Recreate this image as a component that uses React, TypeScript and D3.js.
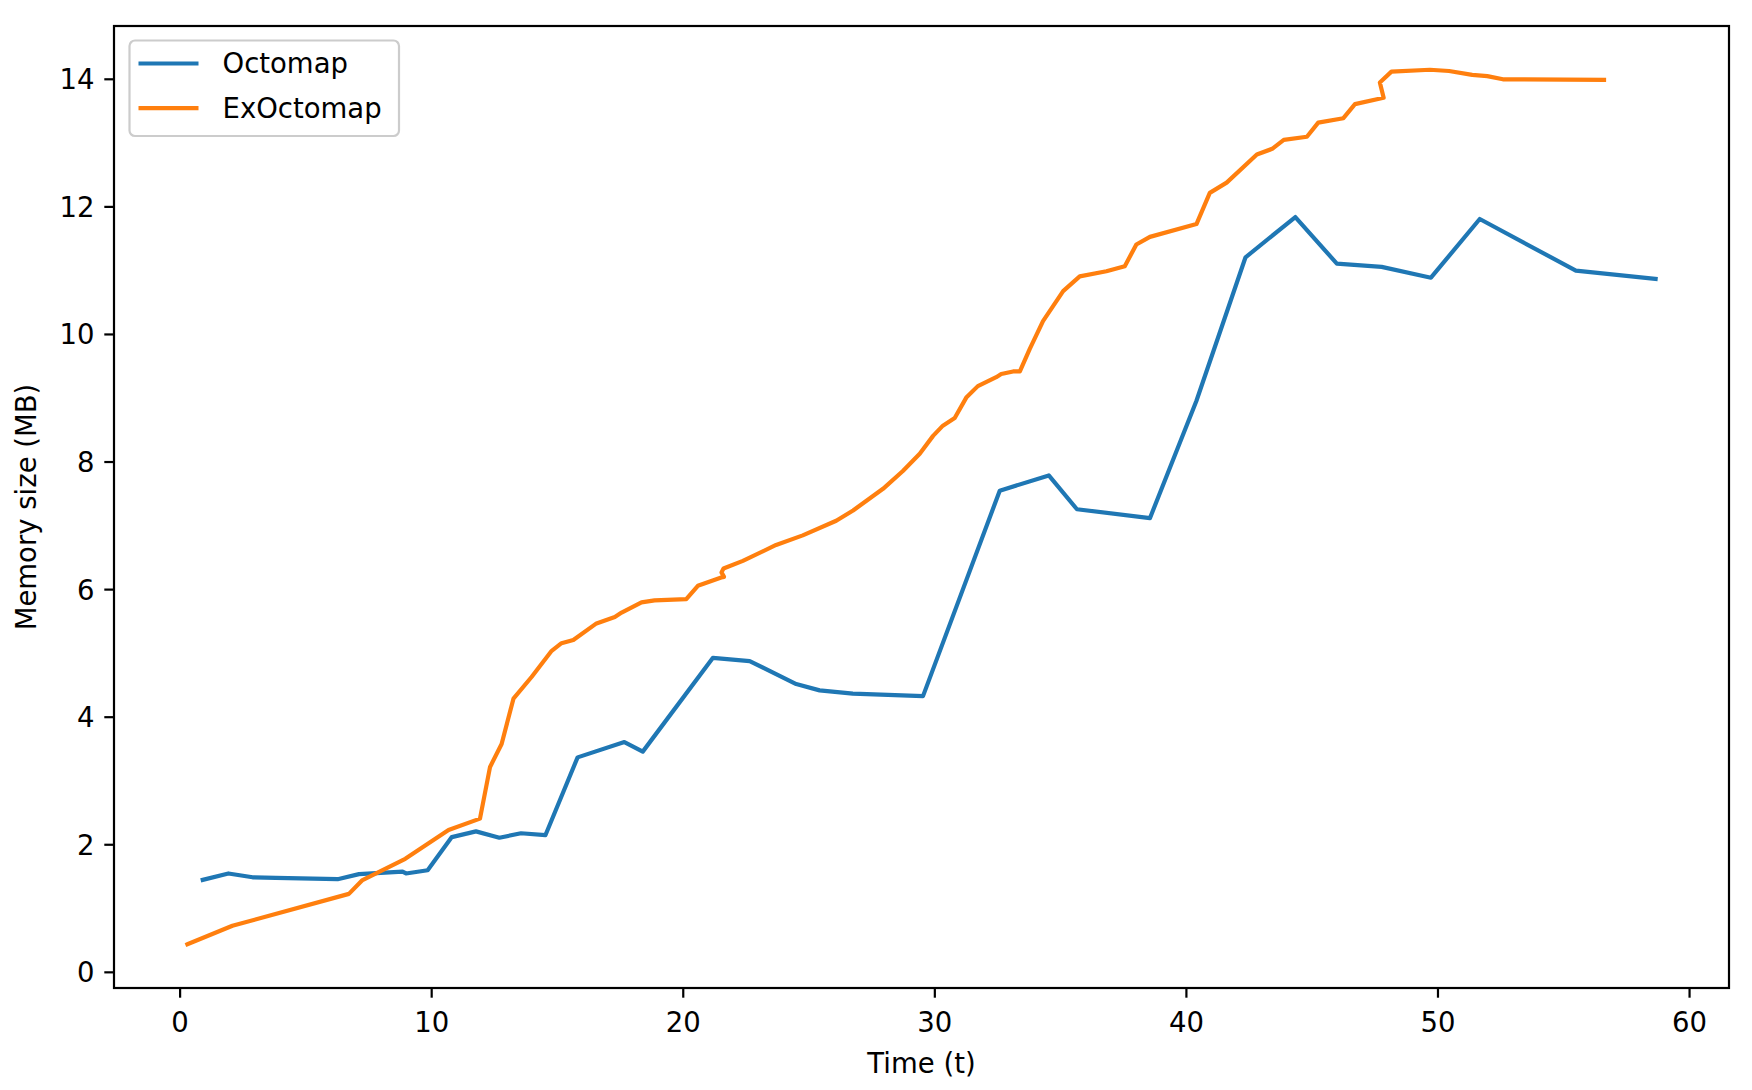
import React, { useEffect, useRef } from "react";
import * as d3 from "d3";

// Octomap series (time, memory MB)
const octoT = [0.9, 1.92, 2.88, 3.8, 6.26, 7.11, 8.84, 8.98, 9.84, 10.8, 11.76, 12.69, 13.55, 14.52, 15.8, 17.66, 18.39, 21.18, 22.64, 24.49, 25.42, 26.74, 29.53, 32.58, 34.53, 35.65, 38.55, 40.4, 42.35, 44.33, 45.98, 47.76, 49.72, 51.66, 55.48, 58.65];
const octoM = [1.45, 1.55, 1.49, 1.48, 1.46, 1.54, 1.58, 1.55, 1.6, 2.12, 2.21, 2.11, 2.18, 2.15, 3.37, 3.61, 3.46, 4.93, 4.88, 4.52, 4.42, 4.37, 4.33, 7.55, 7.79, 7.26, 7.12, 8.96, 11.21, 11.84, 11.11, 11.06, 10.89, 11.81, 11.0, 10.87];

// ExOctomap series (time, memory MB)
const exT = [0.29, 2.08, 6.71, 7.23, 8.95, 10.67, 11.92, 12.32, 12.78, 13.25, 13.97, 14.77, 15.16, 15.63, 16.55, 17.28, 17.55, 18.34, 18.86, 20.12, 20.58, 21.51, 21.62, 21.52, 21.6, 22.37, 23.69, 24.75, 26.08, 26.75, 27.94, 28.73, 29.4, 29.93, 30.32, 30.79, 31.25, 31.71, 32.44, 32.64, 33.11, 33.38, 33.77, 34.3, 35.1, 35.76, 36.82, 37.55, 38.01, 38.55, 40.4, 40.93, 41.6, 42.8, 43.41, 43.87, 44.79, 45.24, 46.24, 46.7, 47.84, 47.69, 48.15, 49.68, 50.44, 51.36, 51.96, 52.58, 56.6];
const exM = [0.44, 0.73, 1.23, 1.44, 1.78, 2.23, 2.41, 3.22, 3.58, 4.29, 4.63, 5.04, 5.16, 5.21, 5.47, 5.57, 5.64, 5.8, 5.83, 5.85, 6.06, 6.19, 6.2, 6.27, 6.33, 6.45, 6.7, 6.85, 7.08, 7.24, 7.58, 7.86, 8.13, 8.41, 8.57, 8.69, 9.01, 9.19, 9.33, 9.38, 9.42, 9.42, 9.77, 10.21, 10.68, 10.91, 10.99, 11.07, 11.41, 11.53, 11.73, 12.22, 12.38, 12.82, 12.91, 13.05, 13.1, 13.32, 13.39, 13.61, 13.71, 13.95, 14.12, 14.15, 14.13, 14.07, 14.05, 14.0, 13.99];

const seriesNames = ["Octomap", "ExOctomap"];
const seriesColors = ["#1f77b4", "#ff7f0e"];
const xTicks = [0, 10, 20, 30, 40, 50, 60];
const yTicks = [0, 2, 4, 6, 8, 10, 12, 14];
const xLabel = "Time (t)";
const yLabel = "Memory size (MB)";

const W = 1752;
const H = 1090;
const L = 114, R = 1729, T = 26, B = 988;
const FONT = "DejaVu Sans";
const FS = 27.5;

export default function App() {
  const ref = useRef<SVGSVGElement>(null);
  useEffect(() => {
    const svg = d3.select(ref.current);
    svg.selectAll("*").remove();
    const allX = [...octoT, ...exT];
    const allY = [...octoM, ...exM];
    const [x0, x1] = d3.extent(allX) as [number, number];
    const [y0, y1] = d3.extent(allY) as [number, number];
    const px = (x1 - x0) * 0.05, py = (y1 - y0) * 0.05;
    const x = d3.scaleLinear().domain([x0 - px, x1 + px]).range([L, R]);
    const y = d3.scaleLinear().domain([y0 - py, y1 + py]).range([B, T]);

    svg.append("rect").attr("x", 0).attr("y", 0).attr("width", W).attr("height", H).attr("fill", "#fff");

    const series = [
      octoT.map((t, i) => [t, octoM[i]] as [number, number]),
      exT.map((t, i) => [t, exM[i]] as [number, number]),
    ];
    const line = d3.line<[number, number]>().x(d => x(d[0])).y(d => y(d[1]));
    const clip = svg.append("clipPath").attr("id", "clip").append("rect")
      .attr("x", L).attr("y", T).attr("width", R - L).attr("height", B - T);
    series.forEach((s, i) => {
      svg.append("path").attr("d", line(s)!).attr("fill", "none")
        .attr("stroke", seriesColors[i]).attr("stroke-width", 4.2)
        .attr("stroke-linejoin", "round").attr("stroke-linecap", "square")
        .attr("clip-path", "url(#clip)");
    });

    // spines
    svg.append("rect").attr("x", L).attr("y", T).attr("width", R - L).attr("height", B - T)
      .attr("fill", "none").attr("stroke", "#000").attr("stroke-width", 2.2);

    // x ticks
    const gx = svg.append("g");
    xTicks.forEach(t => {
      gx.append("line").attr("x1", x(t)).attr("x2", x(t)).attr("y1", B).attr("y2", B + 9.7)
        .attr("stroke", "#000").attr("stroke-width", 2.2);
      gx.append("text").attr("x", x(t)).attr("y", B + 43.5).attr("text-anchor", "middle")
        .attr("font-family", FONT).attr("font-size", FS).attr("fill", "#000").text(String(t));
    });
    // y ticks
    const gy = svg.append("g");
    yTicks.forEach(t => {
      gy.append("line").attr("x1", L - 9.7).attr("x2", L).attr("y1", y(t)).attr("y2", y(t))
        .attr("stroke", "#000").attr("stroke-width", 2.2);
      gy.append("text").attr("x", L - 19.4).attr("y", y(t)).attr("dy", "0.36em").attr("text-anchor", "end")
        .attr("font-family", FONT).attr("font-size", FS).attr("fill", "#000").text(String(t));
    });

    svg.append("text").attr("x", (L + R) / 2).attr("y", 1073).attr("text-anchor", "middle")
      .attr("font-family", FONT).attr("font-size", FS).attr("fill", "#000").text(xLabel);
    svg.append("text").attr("transform", `translate(36,${(T + B) / 2}) rotate(-90)`).attr("text-anchor", "middle")
      .attr("font-family", FONT).attr("font-size", FS).attr("fill", "#000").text(yLabel);

    // legend
    const lg = svg.append("g");
    lg.append("rect").attr("x", 129.5).attr("y", 40.5).attr("width", 269.5).attr("height", 95.5)
      .attr("rx", 5.5).attr("fill", "#fff").attr("fill-opacity", 0.8)
      .attr("stroke", "#cccccc").attr("stroke-width", 2.2);
    seriesNames.forEach((n, i) => {
      const cy = 63.5 + i * 44.6;
      lg.append("line").attr("x1", 138.5).attr("x2", 198.5).attr("y1", cy).attr("y2", cy)
        .attr("stroke", seriesColors[i]).attr("stroke-width", 4.2);
      lg.append("text").attr("x", 222.5).attr("y", cy).attr("dy", "0.36em")
        .attr("font-family", FONT).attr("font-size", FS).attr("fill", "#000").text(n);
    });
  }, []);
  return (
    <svg ref={ref} width={W} height={H}
      style={{ position: "absolute", left: 0, top: 0, display: "block" }} />
  );
}
